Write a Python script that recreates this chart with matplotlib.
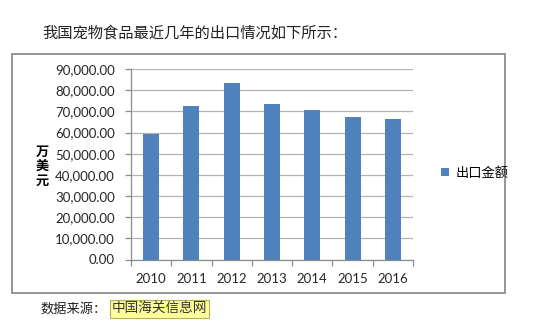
import matplotlib
matplotlib.use('Agg')
import matplotlib.pyplot as plt
from matplotlib.patches import Rectangle
from matplotlib.ticker import FuncFormatter, FixedLocator

YEARS = ['2010', '2011', '2012', '2013', '2014', '2015', '2016']
EXPORT_VALUES = [59300, 72700, 83300, 73300, 70600, 67500, 66500]
SERIES_NAME = '出口金额'
Y_TICKS = [0, 10000, 20000, 30000, 40000, 50000, 60000, 70000, 80000, 90000]

CJK = ['Noto Sans CJK SC', 'DejaVu Sans']
BAR_COLOR = '#4F81BD'
GRID_COLOR = '#b3b3b3'


def main():
  fig = plt.figure(figsize=(5.4, 3.3), dpi=100)
  fig.patch.set_facecolor('white')

  # heading line above the chart
  fig.text(42 / 540, 1 - 33 / 330, '我国宠物食品最近几年的出口情况如下所示：',
           family=CJK, fontsize=11, color='#222222', va='center', ha='left')

  # grey frame around the chart
  fig.patches.append(Rectangle((12 / 540, 1 - 293 / 330), 493 / 540, 239 / 330,
                               transform=fig.transFigure, fill=False,
                               edgecolor='#8c8c8c', linewidth=1.3))

  ax = fig.add_axes([131 / 540, 1 - 259.5 / 330, 282 / 540, 190.5 / 330])
  x = list(range(len(YEARS)))
  ax.bar(x, EXPORT_VALUES, width=0.4, color=BAR_COLOR, zorder=3, label=SERIES_NAME)

  ax.set_xlim(-0.5, len(YEARS) - 0.5)
  ax.set_ylim(0, 90000)
  ax.yaxis.set_major_locator(FixedLocator(Y_TICKS))
  ax.yaxis.set_major_formatter(FuncFormatter(lambda v, p: f'{v:,.2f}'))
  ax.grid(axis='y', color=GRID_COLOR, linewidth=0.9, zorder=0)

  ax.set_xticks(x)
  ax.set_xticklabels(YEARS)
  ax.set_xticks([i - 0.5 for i in range(len(YEARS) + 1)], minor=True)
  ax.tick_params(axis='x', which='major', length=0, pad=10, labelsize=9.5, labelcolor='#262626')
  ax.tick_params(axis='x', which='minor', length=4, color='#8c8c8c', width=0.9)
  ax.tick_params(axis='y', length=4.5, color='#8c8c8c', width=0.9, labelsize=9.5,
                 labelcolor='#262626', pad=7)
  for lbl in ax.get_yticklabels() + ax.get_xticklabels():
    lbl.set_family('Lato')

  for side in ('top', 'right'):
    ax.spines[side].set_visible(False)
  ax.spines['left'].set_color('#8c8c8c')
  ax.spines['bottom'].set_color('#8c8c8c')
  ax.spines['left'].set_linewidth(0.9)
  ax.spines['bottom'].set_linewidth(0.9)

  # stacked unit label on the left
  fig.text(42 / 540, 1 - 166 / 330, '万\n美\n元', family=CJK, fontsize=9.5,
           fontweight='bold', ha='center', va='center', linespacing=1.05)

  fig.legend(handles=ax.get_legend_handles_labels()[0], labels=[SERIES_NAME],
             loc='center left', bbox_to_anchor=(436 / 540, 1 - 173 / 330),
             frameon=False, prop={'family': CJK, 'size': 9.5},
             handlelength=0.6, handleheight=0.6, handletextpad=0.5, borderaxespad=0)

  # source note under the frame
  fig.text(40 / 540, 1 - 309 / 330, '数据来源：', family=CJK, fontsize=9.5,
           color='#222222', va='center', ha='left')
  fig.text(112 / 540, 1 - 309 / 330, '中国海关信息网', family=CJK, fontsize=9.8,
           color='#333333', va='center', ha='left',
           bbox=dict(boxstyle='square,pad=0.12', facecolor='#ffff99',
                     edgecolor='#b5b060', linewidth=0.8))

  fig.savefig('out.png', dpi=100)


if __name__ == '__main__':
  main()
